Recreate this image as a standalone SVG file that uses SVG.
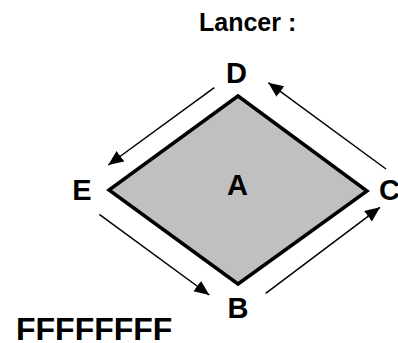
<svg xmlns="http://www.w3.org/2000/svg" width="398" height="343" viewBox="0 0 398 343">
  <style>
    .lbl { font-family: "Liberation Sans", Arial, sans-serif; font-weight: bold; fill: #000; }
    .big { font-size: 29px; text-anchor: middle; }
    .conn { stroke: #000; stroke-width: 1.5; fill: none; marker-end: url(#head); }
  </style>
  <defs>
    <marker id="head" markerUnits="userSpaceOnUse" markerWidth="16" markerHeight="14" refX="15" refY="6.5" orient="auto">
      <path d="M0,0 L15,6.5 L0,13 Z" fill="#000"/>
    </marker>
  </defs>
  <rect width="398" height="343" fill="#fff"/>

  <text class="lbl" x="199" y="30.5" font-size="25">Lancer :</text>

  <g id="shape-A">
    <polygon points="238,96 367,191 238,284 109,190" fill="#c0c0c0" stroke="#000" stroke-width="3.5" stroke-linejoin="miter"/>
    <text class="lbl big" x="237.5" y="195">A</text>
  </g>
  <g id="node-D"><text class="lbl big" x="236.5" y="83">D</text></g>
  <g id="node-E"><text class="lbl big" x="82" y="200">E</text></g>
  <g id="node-C"><text class="lbl" x="379" y="200" font-size="29">C</text></g>
  <g id="node-B"><text class="lbl big" x="238" y="318">B</text></g>

  <g id="connectors">
    <line class="conn" x1="214.3" y1="87.7" x2="108.3" y2="165"/>
    <line class="conn" x1="386" y1="169" x2="268.3" y2="82.7"/>
    <line class="conn" x1="99.3" y1="214.3" x2="209.3" y2="295"/>
    <line class="conn" x1="265.7" y1="293.3" x2="380" y2="207.3"/>
  </g>

  <text class="lbl" x="16" y="340" font-size="32">FFFFFFFF</text>
</svg>
